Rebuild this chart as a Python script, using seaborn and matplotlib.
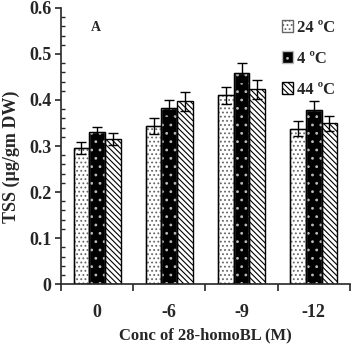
import matplotlib
matplotlib.use("Agg")
import matplotlib.pyplot as plt
import seaborn as sns
import pandas as pd
import numpy as np
from matplotlib.ticker import FixedLocator, FuncFormatter
from matplotlib.patches import Patch

categories = ["0", "-6", "-9", "-12"]
series = ["24 ºC", "4 ºC", "44 ºC"]
v24 = [0.296, 0.343, 0.410, 0.338]
v4 = [0.330, 0.382, 0.459, 0.378]
v44 = [0.315, 0.397, 0.423, 0.349]
e24 = [0.013, 0.017, 0.019, 0.016]
e4 = [0.012, 0.018, 0.021, 0.020]
e44 = [0.013, 0.020, 0.021, 0.017]
yticks = [0, 0.1, 0.2, 0.3, 0.4, 0.5, 0.6]

rows = []
for s, vals in zip(series, [v24, v4, v44]):
    for c, v in zip(categories, vals):
        rows.append({"conc": c, "temp": s, "tss": v})
df = pd.DataFrame(rows)

sns.set_style("ticks")
plt.rcParams["font.family"] = ["Liberation Serif", "DejaVu Serif"]
plt.rcParams["font.weight"] = "bold"
plt.rcParams["hatch.linewidth"] = 0.8

fig = plt.figure(figsize=(3.52, 3.44), dpi=100)
ax = fig.add_axes([0.173, 0.174, 0.821, 0.803])

sns.barplot(data=df, x="conc", y="tss", hue="temp", order=categories,
            hue_order=series, width=0.65, ax=ax, errorbar=None,
            palette=["white", "black", "white"], edgecolor="black",
            linewidth=1.0, legend=False)

H24, H4, H44 = "....", "..", "\\\\\\\\\\\\"
errs = [e24, e4, e44]
bar_conts = list(ax.containers)
for i, cont in enumerate(bar_conts):
    for j, p in enumerate(cont.patches):
        if i == 0:
            p.set_hatch(H24)
            p.set_edgecolor("#666666")
            ax.add_patch(plt.Rectangle((p.get_x(), p.get_y()), p.get_width(),
                                       p.get_height(), fill=False,
                                       edgecolor="black", lw=1.0, zorder=p.get_zorder() + 0.1))
        elif i == 1:
            p.set_facecolor("black")
            p.set_hatch(H4)
            p.set_edgecolor("#bbbbbb")
            ax.add_patch(plt.Rectangle((p.get_x(), p.get_y()), p.get_width(),
                                       p.get_height(), fill=False,
                                       edgecolor="black", lw=1.0, zorder=p.get_zorder() + 0.1))
        else:
            p.set_hatch(H44)
        cx = p.get_x() + p.get_width() / 2
        ax.errorbar(cx, p.get_height(), yerr=errs[i][j], fmt="none",
                    ecolor="black", elinewidth=1.0, capsize=3.5, capthick=1.0,
                    zorder=5)

handles = [Patch(facecolor="white", edgecolor="#666666", hatch=H24),
           Patch(facecolor="black", edgecolor="#bbbbbb", hatch=H4),
           Patch(facecolor="white", edgecolor="black", hatch=H44)]
leg = ax.legend(handles, series, loc="upper right", bbox_to_anchor=(1.0, 1.01),
                frameon=False, handlelength=0.7, handleheight=0.7,
                handletextpad=0.2, labelspacing=0.9,
                prop={"family": "Liberation Serif", "weight": "bold", "size": 12})

ax.set_xlim(-0.5, 3.5)
ax.set_ylim(0, 0.6)
ax.yaxis.set_major_locator(FixedLocator(yticks))
ax.yaxis.set_minor_locator(FixedLocator(np.arange(0, 0.601, 0.02)))
ax.yaxis.set_major_formatter(FuncFormatter(lambda v, pos: "0" if abs(v) < 1e-9 else f"{v:.1f}"))
ax.tick_params(axis="y", which="major", direction="out", length=4, width=1.2,
               labelsize=13, pad=3)
ax.tick_params(axis="y", which="minor", direction="in", length=3, width=1.0)
ax.xaxis.set_minor_locator(FixedLocator([-0.5, 0.5, 1.5, 2.5, 3.5]))
ax.tick_params(axis="x", which="major", length=0, labelsize=13, pad=14)
ax.tick_params(axis="x", which="minor", direction="out", length=5, width=1.2)
for lab in ax.get_xticklabels() + ax.get_yticklabels():
    lab.set_fontweight("bold")

sns.despine(ax=ax)
ax.spines["left"].set_linewidth(1.2)
ax.spines["bottom"].set_linewidth(1.2)

ax.set_xlabel("Conc of 28-homoBL (M)", fontsize=12, fontweight="bold")
ax.xaxis.set_label_coords(0.5, -0.155)
ax.set_ylabel("TSS (µg/gm DW)", fontsize=13, fontweight="bold")
ax.yaxis.set_label_coords(-0.14, 0.46)
ax.text(0.12, 0.93, "A", transform=ax.transAxes, fontsize=10,
        fontweight="bold", ha="center", va="center")

fig.savefig("out.png", dpi=100)
